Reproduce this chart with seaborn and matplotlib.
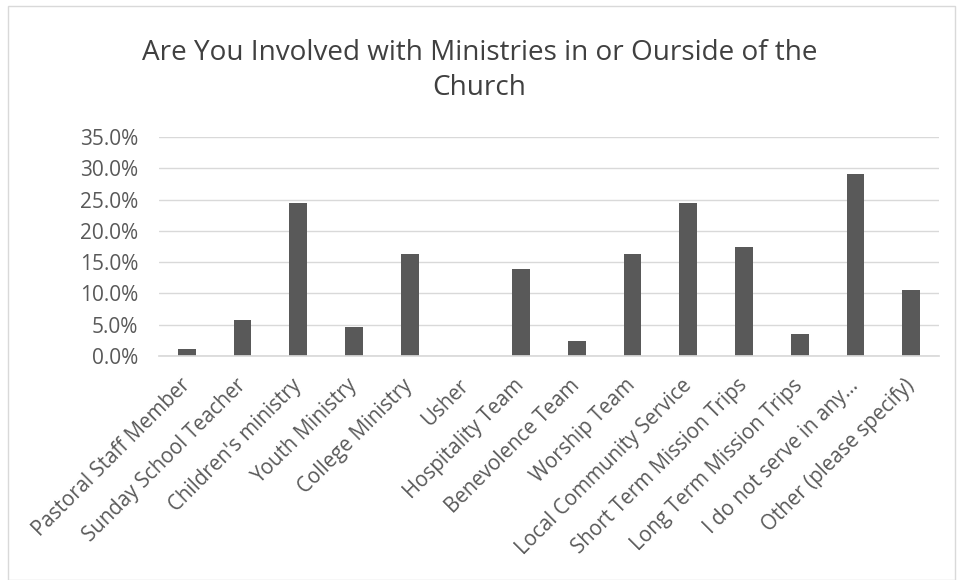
import matplotlib
matplotlib.use("Agg")
import matplotlib.pyplot as plt
import seaborn as sns
import pandas as pd
from matplotlib.ticker import PercentFormatter
from matplotlib.patches import Rectangle

categories = ["Pastoral Staff Member", "Sunday School Teacher", "Children's ministry",
              "Youth Ministry", "College Ministry", "Usher", "Hospitality Team",
              "Benevolence Team", "Worship Team", "Local Community Service",
              "Short Term Mission Trips", "Long Term Mission Trips",
              "I do not serve in any\u2026", "Other (please specify)"]
values = [1.16, 5.81, 24.42, 4.65, 16.28, 0.0, 13.95, 2.33, 16.28, 24.42,
          17.44, 3.49, 29.07, 10.47]
yticks = [0, 5, 10, 15, 20, 25, 30, 35]
title_lines = ["Are You Involved with Ministries in or Ourside of the", "Church"]

sns.set_theme(style="white")
plt.rcParams['font.family'] = ['Open Sans', 'DejaVu Sans']

df = pd.DataFrame({"cat": categories, "val": values})
fig = plt.figure(figsize=(9.59, 5.8), dpi=100)
ax = fig.add_axes([159/959, 1 - 356/580, (939-159)/959, (356-137)/580])
sns.barplot(data=df, x="cat", y="val", color="#595959", width=0.32, ax=ax,
            saturation=1, edgecolor="none")
ax.set_ylim(0, 35)
ax.set_yticks(yticks)
ax.yaxis.set_major_formatter(PercentFormatter(decimals=1))
ax.grid(axis="y", color="#d9d9d9", linewidth=1)
ax.set_axisbelow(True)
for s in ["top", "right", "left"]:
    ax.spines[s].set_visible(False)
ax.spines["bottom"].set_color("#d9d9d9")
ax.set_xlabel("")
ax.set_ylabel("")
ax.tick_params(axis="y", labelsize=15, colors="#595959", length=0, pad=15)
ax.tick_params(axis="x", labelsize=14.8, colors="#595959", length=0, pad=19)
for lab in ax.get_xticklabels():
    lab.set_rotation(45)
    lab.set_ha("right")
    lab.set_va("center")
    lab.set_rotation_mode("anchor")
ax.set_xlim(-0.5, len(categories) - 0.5)

fig.text(0.5, 1 - 53/580, title_lines[0], ha="center", va="center", fontsize=20.1,
         color="#404040")
fig.text(0.5, 1 - 88/580, title_lines[1], ha="center", va="center", fontsize=20.1,
         color="#404040")
fig.patches.append(Rectangle((8/959, 0), (955-8)/959, 1 - 6/580, transform=fig.transFigure,
                             fill=False, edgecolor="#d9d9d9", linewidth=1))
fig.savefig("out.png", dpi=100)
